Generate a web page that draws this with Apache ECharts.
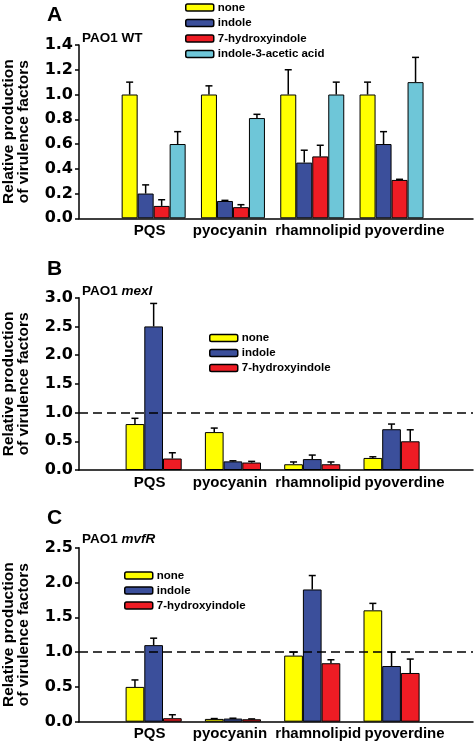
<!DOCTYPE html>
<html>
<head>
<meta charset="utf-8">
<script src="https://cdn.jsdelivr.net/npm/echarts@6/dist/echarts.min.js"></script>
<style>
html,body{margin:0;padding:0;background:#fff;}
#chart{width:475px;height:746px;}
</style>
</head>
<body>
<div id="chart"></div>
<script>
// ---------- data ----------
var categories = ['PQS', 'pyocyanin', 'rhamnolipid', 'pyoverdine'];

// Panel A: PAO1 WT
var A_none = [1.0, 1.0, 1.0, 1.0];
var A_none_sd = [0.1, 0.07, 0.2, 0.1];
var A_indole = [0.2, 0.14, 0.45, 0.6];
var A_indole_sd = [0.07, 0.005, 0.1, 0.1];
var A_hydroxy = [0.1, 0.09, 0.5, 0.31];
var A_hydroxy_sd = [0.05, 0.02, 0.09, 0.005];
var A_iaa = [0.6, 0.81, 1.0, 1.1];
var A_iaa_sd = [0.1, 0.03, 0.1, 0.2];

// Panel B: PAO1 mexI
var B_none = [0.8, 0.66, 0.1, 0.21];
var B_none_sd = [0.1, 0.07, 0.04, 0.02];
var B_indole = [2.5, 0.15, 0.19, 0.71];
var B_indole_sd = [0.4, 0.01, 0.07, 0.09];
var B_hydroxy = [0.2, 0.13, 0.1, 0.5];
var B_hydroxy_sd = [0.1, 0.02, 0.04, 0.2];

// Panel C: PAO1 mvfR
var C_none = [0.5, 0.04, 0.95, 1.6];
var C_none_sd = [0.1, 0.005, 0.05, 0.1];
var C_indole = [1.1, 0.045, 1.9, 0.8];
var C_indole_sd = [0.1, 0.005, 0.2, 0.2];
var C_hydroxy = [0.05, 0.035, 0.84, 0.7];
var C_hydroxy_sd = [0.05, 0.005, 0.05, 0.2];

var A_ticks = [0, 0.2, 0.4, 0.6, 0.8, 1.0, 1.2, 1.4];
var B_ticks = [0, 0.5, 1.0, 1.5, 2.0, 2.5, 3.0];
var C_ticks = [0, 0.5, 1.0, 1.5, 2.0, 2.5];

var seriesNames = ['none', 'indole', '7-hydroxyindole', 'indole-3-acetic acid'];
var colors = ['#ffff00', '#3b4f9b', '#ee1c24', '#6ec6d8'];

// ---------- layout ----------
var FONT = 'Liberation Sans, Arial, sans-serif';
var TICKFONT = 'DejaVu Sans, Liberation Sans, sans-serif';
var AXIS_LEFT = 79;
var panels = [
  {letter: 'A', sub: '{b|PAO1 WT}', top: 45, height: 173.3, ticks: A_ticks,
   vals: [A_none, A_indole, A_hydroxy, A_iaa], sds: [A_none_sd, A_indole_sd, A_hydroxy_sd, A_iaa_sd],
   barW: 16, dashed: false, letterTop: 5, subTop: 31,
   legend: {left: 185, top: 1, gap: 2.5}},
  {letter: 'B', sub: '{b|PAO1 }{i|mexI}', top: 297.7, height: 172.3, ticks: B_ticks,
   vals: [B_none, B_indole, B_hydroxy], sds: [B_none_sd, B_indole_sd, B_hydroxy_sd],
   barW: 18.7, dashed: true, letterTop: 259, subTop: 284,
   legend: {left: 209, top: 331.5, gap: 2}},
  {letter: 'C', sub: '{b|PAO1 }{i|mvfR}', top: 547.7, height: 174, ticks: C_ticks,
   vals: [C_none, C_indole, C_hydroxy], sds: [C_none_sd, C_indole_sd, C_hydroxy_sd],
   barW: 18.7, dashed: true, letterTop: 508, subTop: 532,
   legend: {left: 124, top: 569, gap: 2}}
];

var labelShift = ['{a|PQS}', '{b|pyocyanin}', '{c|rhamnolipid}', '{d|pyoverdine}'];

var option = {
  backgroundColor: '#fff',
  animation: false,
  grid: [], xAxis: [], yAxis: [], series: [], legend: [], title: []
};

panels.forEach(function (p, pi) {
  var gOuter = pi * 2, gInner = pi * 2 + 1;
  var ymin = p.ticks[0], ymax = p.ticks[p.ticks.length - 1], interval = p.ticks[1] - p.ticks[0];
  option.grid.push({left: AXIS_LEFT, right: 2, top: p.top, height: p.height, containLabel: false, outerBoundsMode: 'none'});
  option.grid.push({left: 114, right: 43.8, top: p.top, height: p.height, containLabel: false, outerBoundsMode: 'none'});
  option.xAxis.push({
    type: 'value', gridIndex: gOuter, min: 0, max: 1,
    axisLine: {show: true, lineStyle: {color: '#000', width: 1.5}},
    axisTick: {show: false}, axisLabel: {show: false}, splitLine: {show: false}
  });
  option.xAxis.push({
    type: 'category', gridIndex: gInner, data: categories,
    axisLine: {show: false}, axisTick: {show: false}, splitLine: {show: false},
    axisLabel: {
      show: true, margin: 5, color: '#000', fontFamily: FONT, fontWeight: 'bold', fontSize: 15,
      interval: 0, hideOverlap: false,
      formatter: function (v, i) { return labelShift[i]; },
      rich: {
        a: {fontFamily: FONT, fontWeight: 'bold', fontSize: 15, color: '#000', padding: [0, 8, 0, 0]},
        b: {fontFamily: FONT, fontWeight: 'bold', fontSize: 15, color: '#000', padding: [0, 6, 0, 0]},
        c: {fontFamily: FONT, fontWeight: 'bold', fontSize: 15, color: '#000', padding: [0, 0, 0, 12]},
        d: {fontFamily: FONT, fontWeight: 'bold', fontSize: 15, color: '#000', padding: [0, 0, 0, 26]}
      }
    }
  });
  option.yAxis.push({
    type: 'value', gridIndex: gOuter, min: ymin, max: ymax, interval: interval,
    name: 'Relative production\nof virulence factors', nameLocation: 'middle', nameGap: 48, nameRotate: 90,
    nameTextStyle: {fontFamily: FONT, fontWeight: 'bold', fontSize: 15.5, color: '#000', lineHeight: 15},
    axisLine: {show: true, lineStyle: {color: '#000', width: 1.5}},
    axisTick: {show: true, inside: false, length: 4, lineStyle: {color: '#000', width: 1.5}},
    axisLabel: {show: true, margin: 6, color: '#000', fontFamily: TICKFONT, fontWeight: 'bold', fontSize: 16,
      formatter: function (v) { return v.toFixed(1); }},
    splitLine: {show: false}
  });
  option.yAxis.push({
    type: 'value', gridIndex: gInner, min: ymin, max: ymax, interval: interval,
    show: false, splitLine: {show: false}
  });

  var n = p.vals.length;
  var errData = [];
  p.vals.forEach(function (arr, si) {
    option.series.push({
      type: 'bar', name: seriesNames[si], xAxisIndex: gInner, yAxisIndex: gInner,
      data: arr, barWidth: p.barW, barGap: '0%',
      itemStyle: {color: colors[si], borderColor: '#000', borderWidth: 1},
      z: 2
    });
    arr.forEach(function (v, ci) { errData.push([ci, si, v, p.sds[si][ci]]); });
  });
  var barW = p.barW;
  option.series.push({
    type: 'custom', name: 'err' + pi, xAxisIndex: gInner, yAxisIndex: gInner,
    encode: {x: 0, y: 2}, data: errData, z: 1, silent: true,
    renderItem: function (params, api) {
      var ci = api.value(0), si = api.value(1), v = api.value(2), sd = api.value(3);
      var base = api.coord([ci, v]);
      var top = api.coord([ci, v + sd]);
      var x = base[0] + (si - (n - 1) / 2) * barW;
      var st = {stroke: '#000', lineWidth: 1.5};
      return {type: 'group', children: [
        {type: 'line', shape: {x1: x, y1: base[1], x2: x, y2: top[1]}, style: st},
        {type: 'line', shape: {x1: x - 3.5, y1: top[1], x2: x + 3.5, y2: top[1]}, style: st}
      ]};
    }
  });
  if (p.dashed) {
    option.series.push({
      type: 'line', name: 'ref' + pi, xAxisIndex: gOuter, yAxisIndex: gOuter, data: [],
      markLine: {
        silent: true, symbol: 'none', label: {show: false},
        lineStyle: {color: '#000', type: [9, 5], width: 1.5},
        data: [{yAxis: 1}]
      }
    });
  }
  option.legend.push({
    orient: 'vertical', left: p.legend.left, top: p.legend.top, padding: 0,
    data: seriesNames.slice(0, n), itemWidth: 28, itemHeight: 7, itemGap: p.legend.gap,
    icon: 'roundRect', selectedMode: false,
    itemStyle: {borderColor: '#000', borderWidth: 1.5},
    textStyle: {fontFamily: FONT, fontWeight: 'bold', fontSize: 11.5, color: '#000', lineHeight: 13, padding: [0, 0, 0, -1]}
  });
  option.title.push({
    text: p.letter, left: 47, top: p.letterTop, padding: 0,
    textStyle: {fontFamily: FONT, fontWeight: 'bold', fontSize: 21, color: '#000'}
  });
  option.title.push({
    text: p.sub, left: 82, top: p.subTop, padding: 0,
    textStyle: {rich: {
      b: {fontFamily: FONT, fontWeight: 'bold', fontSize: 13.5, color: '#000'},
      i: {fontFamily: FONT, fontWeight: 'bold', fontStyle: 'italic', fontSize: 13.5, color: '#000'}
    }}
  });
});

var chart = echarts.init(document.getElementById('chart'), null, {renderer: 'canvas'});
chart.setOption(option);
</script>
</body>
</html>
